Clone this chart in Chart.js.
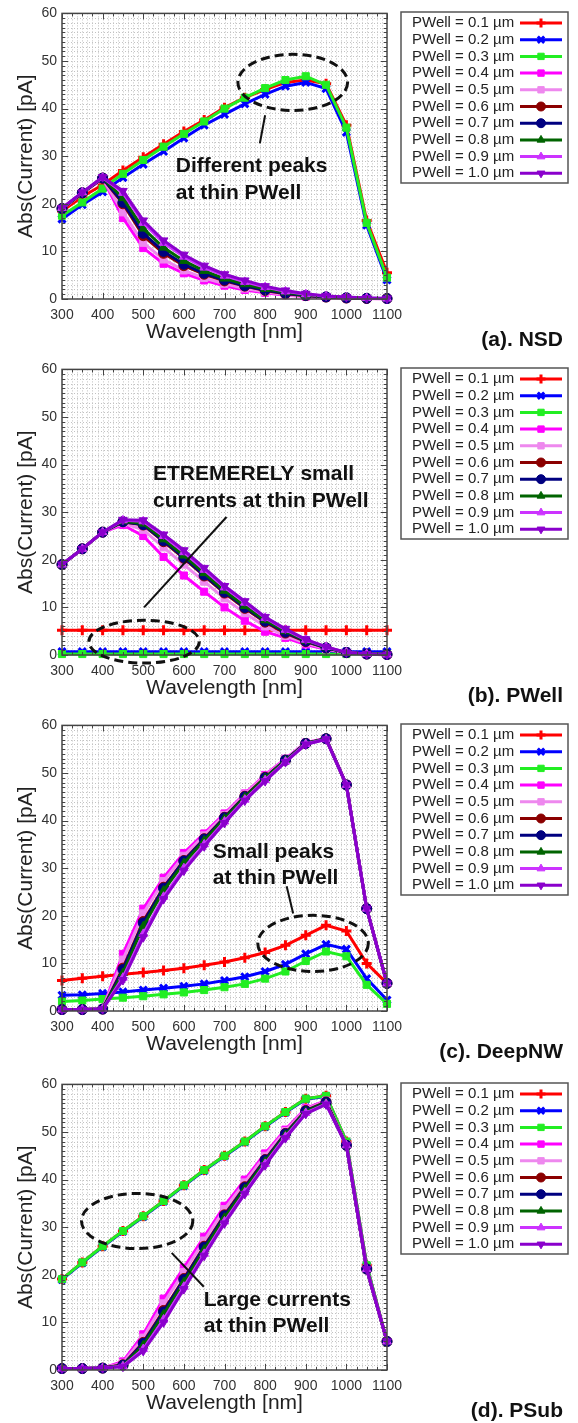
<!DOCTYPE html>
<html>
<head>
<meta charset="utf-8">
<title>Abs(Current) vs Wavelength</title>
<script src="https://cdn.jsdelivr.net/npm/chart.js@4.4.1/dist/chart.umd.min.js"></script>
<style>
  html, body { margin: 0; padding: 0; background: #fff; }
  body { width: 578px; height: 1423px; position: relative; overflow: hidden; }
  .panel { position: absolute; left: 0; width: 578px; height: 356px; }
</style>
</head>
<body>
<div class="panel" style="top:0px"><canvas id="nsdChart" width="578" height="356"></canvas></div>
<div class="panel" style="top:356px"><canvas id="pwellChart" width="578" height="356"></canvas></div>
<div class="panel" style="top:712px"><canvas id="deepnwChart" width="578" height="356"></canvas></div>
<div class="panel" style="top:1071px"><canvas id="psubChart" width="578" height="356"></canvas></div>

<script>
// ---------------------------------------------
// data: wavelength [nm] and current [pA]
// ---------------------------------------------
const wavelength = [300, 350, 400, 450, 500, 550, 600, 650, 700, 750, 800, 850, 900, 950, 1000, 1050, 1100];

const pwellLabels = [
    "PWell = 0.1 µm", "PWell = 0.2 µm", "PWell = 0.3 µm", "PWell = 0.4 µm", "PWell = 0.5 µm",
    "PWell = 0.6 µm", "PWell = 0.7 µm", "PWell = 0.8 µm", "PWell = 0.9 µm", "PWell = 1.0 µm"
];

// (a) NSD
const nsd01 = [18.5, 21.5, 24.0, 27.0, 29.8, 32.5, 35.2, 37.6, 40.2, 42.3, 44.0, 45.5, 46.0, 45.2, 36.5, 16.5, 5.5];
const nsd02 = [16.8, 19.8, 22.5, 25.5, 28.3, 31.0, 33.8, 36.5, 38.8, 41.0, 43.0, 44.7, 45.5, 44.2, 35.0, 15.5, 4.0];
const nsd03 = [17.5, 20.3, 23.2, 26.3, 29.2, 32.0, 34.7, 37.3, 40.0, 42.3, 44.3, 46.0, 46.8, 45.0, 36.0, 16.0, 4.5];
const nsd04 = [18.9, 22.2, 25.3, 17.0, 10.7, 7.4, 5.4, 3.9, 2.8, 1.9, 1.3, 0.8, 0.5, 0.3, 0.15, 0.1, 0.05];
const nsd05 = [18.9, 22.2, 25.3, 18.2, 11.8, 8.3, 6.0, 4.4, 3.2, 2.2, 1.5, 0.9, 0.55, 0.3, 0.2, 0.1, 0.05];
const nsd06 = [19.0, 22.3, 25.4, 20.0, 13.3, 9.6, 7.0, 5.2, 3.8, 2.7, 1.8, 1.1, 0.7, 0.4, 0.2, 0.1, 0.1];
const nsd07 = [19.0, 22.3, 25.4, 20.3, 13.8, 10.0, 7.3, 5.4, 4.0, 2.8, 1.9, 1.2, 0.75, 0.45, 0.25, 0.15, 0.1];
const nsd08 = [19.0, 22.3, 25.5, 21.2, 14.8, 10.8, 8.0, 5.9, 4.3, 3.1, 2.1, 1.4, 0.85, 0.5, 0.3, 0.15, 0.1];
const nsd09 = [19.1, 22.4, 25.5, 22.3, 16.0, 11.8, 8.9, 6.6, 4.9, 3.6, 2.5, 1.6, 1.0, 0.6, 0.35, 0.2, 0.1];
const nsd10 = [19.1, 22.4, 25.6, 22.7, 16.5, 12.3, 9.3, 7.0, 5.2, 3.9, 2.7, 1.8, 1.1, 0.65, 0.4, 0.2, 0.1];

// (b) PWell
const pw01 = [5.2, 5.2, 5.2, 5.2, 5.2, 5.2, 5.2, 5.2, 5.2, 5.2, 5.2, 5.2, 5.2, 5.2, 5.2, 5.2, 5.2];
const pw02 = [0.7, 0.7, 0.7, 0.7, 0.7, 0.7, 0.7, 0.7, 0.7, 0.7, 0.7, 0.7, 0.7, 0.7, 0.7, 0.7, 0.7];
const pw03 = [0.2, 0.2, 0.2, 0.2, 0.2, 0.2, 0.2, 0.2, 0.2, 0.2, 0.2, 0.2, 0.2, 0.2, 0.2, 0.2, 0.2];
const pw04 = [19.0, 22.3, 25.8, 27.3, 25.0, 20.6, 16.7, 13.3, 10.0, 7.2, 4.9, 3.6, 2.2, 1.2, 0.4, 0.15, 0.05];
const pw05 = [19.0, 22.3, 25.8, 27.7, 26.3, 22.6, 19.0, 15.4, 11.9, 8.8, 6.0, 4.0, 2.5, 1.3, 0.45, 0.15, 0.05];
const pw06 = [19.0, 22.3, 25.8, 28.0, 27.3, 23.8, 20.3, 16.6, 13.0, 9.8, 6.9, 4.6, 2.8, 1.5, 0.5, 0.2, 0.1];
const pw07 = [19.0, 22.3, 25.8, 28.0, 27.4, 24.0, 20.5, 16.8, 13.2, 10.0, 7.1, 4.8, 2.9, 1.5, 0.5, 0.2, 0.1];
const pw08 = [19.0, 22.3, 25.8, 28.1, 27.6, 24.3, 20.9, 17.2, 13.5, 10.3, 7.3, 5.0, 3.0, 1.6, 0.5, 0.2, 0.1];
const pw09 = [19.0, 22.3, 25.8, 28.3, 28.1, 25.0, 21.6, 17.9, 14.2, 11.0, 7.8, 5.3, 3.2, 1.7, 0.55, 0.2, 0.1];
const pw10 = [19.0, 22.3, 25.8, 28.4, 28.3, 25.3, 22.0, 18.3, 14.5, 11.3, 8.0, 5.5, 3.3, 1.7, 0.55, 0.2, 0.1];

// (c) DeepNW
const dn01 = [6.4, 6.9, 7.3, 7.7, 8.1, 8.5, 9.0, 9.6, 10.3, 11.2, 12.3, 13.8, 15.9, 18.0, 16.8, 10.0, 5.8];
const dn02 = [3.3, 3.4, 3.7, 4.0, 4.4, 4.8, 5.2, 5.7, 6.4, 7.2, 8.3, 9.8, 12.0, 14.0, 13.0, 6.8, 2.3];
const dn03 = [2.0, 2.2, 2.5, 2.8, 3.1, 3.5, 3.9, 4.4, 5.0, 5.7, 6.8, 8.3, 10.5, 12.5, 11.5, 5.5, 1.5];
const dn04 = [0.3, 0.3, 0.4, 12.0, 21.5, 28.0, 33.2, 37.3, 41.5, 45.7, 49.6, 53.0, 56.4, 57.3, 47.6, 21.6, 5.8];
const dn05 = [0.3, 0.3, 0.4, 10.8, 20.5, 27.3, 32.6, 36.9, 41.2, 45.5, 49.4, 52.9, 56.3, 57.3, 47.6, 21.6, 5.8];
const dn06 = [0.3, 0.3, 0.4, 9.0, 18.8, 26.0, 31.6, 36.2, 40.7, 45.1, 49.1, 52.7, 56.2, 57.2, 47.5, 21.5, 5.8];
const dn07 = [0.3, 0.3, 0.4, 8.7, 18.5, 25.8, 31.5, 36.1, 40.6, 45.0, 49.0, 52.7, 56.2, 57.2, 47.5, 21.5, 5.8];
const dn08 = [0.3, 0.3, 0.4, 8.0, 17.8, 25.3, 31.1, 35.8, 40.4, 44.9, 48.9, 52.6, 56.2, 57.2, 47.5, 21.5, 5.8];
const dn09 = [0.3, 0.3, 0.4, 7.0, 16.2, 24.0, 30.0, 35.0, 39.8, 44.4, 48.5, 52.4, 56.1, 57.1, 47.5, 21.5, 5.8];
const dn10 = [0.3, 0.3, 0.4, 6.5, 15.5, 23.5, 29.5, 34.6, 39.5, 44.2, 48.3, 52.3, 56.0, 57.1, 47.5, 21.5, 5.8];

// (d) PSub
const ps01 = [19.1, 22.6, 26.0, 29.2, 32.3, 35.5, 38.8, 42.0, 45.0, 48.0, 51.2, 54.2, 57.0, 57.6, 48.0, 22.0, 6.0];
const ps02 = [19.0, 22.5, 25.9, 29.1, 32.2, 35.4, 38.7, 41.9, 44.9, 47.9, 51.1, 54.1, 56.9, 57.5, 47.9, 21.9, 5.9];
const ps03 = [19.1, 22.6, 26.0, 29.2, 32.3, 35.5, 38.8, 42.0, 45.0, 48.0, 51.2, 54.2, 57.0, 57.6, 48.0, 22.0, 6.0];
const ps04 = [0.3, 0.3, 0.4, 1.8, 7.5, 15.0, 21.5, 28.0, 34.5, 40.0, 45.5, 50.5, 55.0, 56.6, 47.3, 21.3, 6.0];
const ps05 = [0.3, 0.3, 0.4, 1.5, 6.8, 14.0, 20.6, 27.2, 33.8, 39.4, 45.0, 50.2, 54.8, 56.5, 47.3, 21.3, 6.0];
const ps06 = [0.3, 0.3, 0.4, 1.1, 5.8, 12.5, 19.2, 26.0, 32.6, 38.5, 44.2, 49.7, 54.5, 56.3, 47.2, 21.2, 6.0];
const ps07 = [0.3, 0.3, 0.4, 1.0, 5.6, 12.2, 19.0, 25.8, 32.4, 38.3, 44.1, 49.6, 54.4, 56.2, 47.2, 21.2, 6.0];
const ps08 = [0.3, 0.3, 0.4, 0.9, 5.2, 11.7, 18.5, 25.3, 32.0, 38.0, 43.8, 49.4, 54.3, 56.1, 47.2, 21.2, 6.0];
const ps09 = [0.3, 0.3, 0.4, 0.8, 4.4, 10.6, 17.5, 24.4, 31.2, 37.3, 43.3, 49.0, 54.0, 55.9, 47.2, 21.2, 6.0];
const ps10 = [0.3, 0.3, 0.4, 0.7, 4.0, 10.0, 17.0, 24.0, 30.8, 37.0, 43.0, 48.7, 53.8, 55.8, 47.2, 21.2, 6.0];

// ---------------------------------------------
// series styles
// ---------------------------------------------
const seriesColors = ["#ff0000", "#0000ff", "#22ee22", "#ff00ff", "#ee88ee", "#8b0000", "#000080", "#006400", "#cc33ff", "#8a00cc"];
const seriesMarkers = ["cross", "crossRot", "rect", "rect", "rect", "circle", "circle", "triangle", "triangle", "triangle"];
const seriesTurn = [0, 0, 0, 0, 0, 0, 0, 0, 0, 180];

const FONT = "'Liberation Sans', Arial, sans-serif";

// ---------------------------------------------
// drawing helpers
// ---------------------------------------------
function drawGrid(chart) {
    var ctx = chart.ctx;
    var a = chart.chartArea;
    var xs = chart.scales.x;
    var ys = chart.scales.y;
    ctx.save();
    ctx.strokeStyle = "#c2c2c2";
    ctx.lineWidth = 1;
    ctx.setLineDash([1, 2]);
    ctx.beginPath();
    for (var v = 312.5; v < 1100; v += 12.5) {
        var px = Math.round(xs.getPixelForValue(v)) + 0.5;
        ctx.moveTo(px, a.top);
        ctx.lineTo(px, a.bottom);
    }
    for (var w = 1; w < 60; w += 1) {
        var py = Math.round(ys.getPixelForValue(w)) + 0.5;
        ctx.moveTo(a.left, py);
        ctx.lineTo(a.right, py);
    }
    ctx.stroke();
    ctx.restore();
}

function drawFrame(chart) {
    var ctx = chart.ctx;
    var a = chart.chartArea;
    var xs = chart.scales.x;
    var ys = chart.scales.y;
    ctx.save();
    ctx.strokeStyle = "#444";
    ctx.lineWidth = 1;
    ctx.beginPath();
    // inward ticks on all four sides
    for (var v = 300; v <= 1100; v += 25) {
        var px = Math.round(xs.getPixelForValue(v)) + 0.5;
        var len = v % 100 === 0 ? 6 : 3;
        ctx.moveTo(px, a.bottom);
        ctx.lineTo(px, a.bottom - len);
        ctx.moveTo(px, a.top);
        ctx.lineTo(px, a.top + len);
    }
    for (var w = 0; w <= 60; w += 1) {
        var py = Math.round(ys.getPixelForValue(w)) + 0.5;
        var l2 = w % 10 === 0 ? 6 : 3;
        ctx.moveTo(a.left, py);
        ctx.lineTo(a.left + l2, py);
        ctx.moveTo(a.right, py);
        ctx.lineTo(a.right - l2, py);
    }
    ctx.stroke();
    ctx.lineWidth = 1.5;
    ctx.strokeRect(a.left, a.top, a.right - a.left, a.bottom - a.top);
    ctx.restore();
}

function drawNote(chart, note) {
    var ctx = chart.ctx;
    var xs = chart.scales.x;
    var ys = chart.scales.y;
    ctx.save();

    // dashed ellipse
    var cx = xs.getPixelForValue(note.ellipse[0]);
    var cy = ys.getPixelForValue(note.ellipse[1]);
    var rx = Math.abs(xs.getPixelForValue(note.ellipse[0] + note.ellipse[2]) - cx);
    var ry = Math.abs(ys.getPixelForValue(note.ellipse[1] + note.ellipse[3]) - cy);
    ctx.beginPath();
    ctx.ellipse(cx, cy, rx, ry, 0, 0, Math.PI * 2);
    ctx.setLineDash([9, 5]);
    ctx.lineWidth = 3;
    ctx.strokeStyle = "#111";
    ctx.stroke();

    // leader line
    ctx.setLineDash([]);
    ctx.lineWidth = 2;
    ctx.beginPath();
    ctx.moveTo(xs.getPixelForValue(note.line[0]), ys.getPixelForValue(note.line[1]));
    ctx.lineTo(xs.getPixelForValue(note.line[2]), ys.getPixelForValue(note.line[3]));
    ctx.stroke();

    // text
    ctx.fillStyle = "#111";
    ctx.font = "bold 21px " + FONT;
    ctx.textAlign = "left";
    ctx.textBaseline = "middle";
    for (var i = 0; i < note.text.length; i++) {
        ctx.fillText(note.text[i], xs.getPixelForValue(note.textAt[0]), ys.getPixelForValue(note.textAt[1][i]));
    }
    ctx.restore();
}

function drawSideLegend(chart) {
    var ctx = chart.ctx;
    var boxX = 401, boxY = 12, boxW = 167, boxH = 171;
    ctx.save();
    ctx.fillStyle = "#fff";
    ctx.fillRect(boxX, boxY, boxW, boxH);
    ctx.strokeStyle = "#555";
    ctx.lineWidth = 1.5;
    ctx.strokeRect(boxX, boxY, boxW, boxH);

    var sets = chart.data.datasets;
    for (var i = 0; i < sets.length; i++) {
        var ds = sets[i];
        var cy = boxY + 11 + i * 16.7;
        ctx.fillStyle = "#222";
        ctx.font = "15px " + FONT;
        ctx.textAlign = "left";
        ctx.textBaseline = "middle";
        ctx.fillText(ds.label, boxX + 11, cy);

        ctx.strokeStyle = ds.borderColor;
        ctx.fillStyle = ds.borderColor;
        ctx.lineWidth = 3;
        ctx.beginPath();
        ctx.moveTo(boxX + 119, cy);
        ctx.lineTo(boxX + 161, cy);
        ctx.stroke();
        ctx.lineWidth = ds.pointBorderWidth;
        Chart.helpers.drawPoint(ctx, {
            pointStyle: ds.pointStyle,
            rotation: ds.pointRotation,
            radius: 4.5,
            borderWidth: ds.pointBorderWidth
        }, boxX + 140, cy);
    }
    ctx.restore();
}

function drawCaption(chart, caption) {
    var ctx = chart.ctx;
    ctx.save();
    ctx.fillStyle = "#111";
    ctx.font = "bold 21px " + FONT;
    ctx.textAlign = "right";
    ctx.textBaseline = "middle";
    ctx.fillText(caption, 563, 340);
    ctx.restore();
}

// ---------------------------------------------
// one panel
// ---------------------------------------------
function makePanel(canvasId, series, note, caption) {
    var datasets = [];
    for (var i = 0; i < series.length; i++) {
        var values = series[i];
        datasets.push({
            label: pwellLabels[i],
            data: values.map(function(v, k) {
                return { x: wavelength[k], y: v };
            }),
            borderColor: seriesColors[i],
            backgroundColor: seriesColors[i],
            borderWidth: 3,
            pointStyle: seriesMarkers[i],
            pointRotation: seriesTurn[i],
            pointRadius: 5,
            pointBorderWidth: seriesMarkers[i].indexOf("cross") === 0 ? 3 : 1,
            pointBackgroundColor: seriesColors[i],
            pointBorderColor: seriesColors[i],
            tension: 0,
            clip: false,
            order: series.length - i
        });
    }

    var decor = {
        id: "panelDecor",
        beforeDatasetsDraw: function(chart) {
            drawGrid(chart);
        },
        afterDatasetsDraw: function(chart) {
            drawFrame(chart);
            drawNote(chart, note);
        },
        afterDraw: function(chart) {
            drawSideLegend(chart);
            drawCaption(chart, caption);
        }
    };

    return new Chart(document.getElementById(canvasId), {
        type: "line",
        data: { datasets: datasets },
        options: {
            responsive: false,
            animation: false,
            layout: { padding: { left: 0, right: 191, top: 13, bottom: 0 } },
            plugins: {
                legend: { display: false },
                tooltip: { enabled: false }
            },
            scales: {
                x: {
                    type: "linear",
                    min: 300,
                    max: 1100,
                    afterFit: function(s) { s.height = 57; },
                    ticks: {
                        stepSize: 100,
                        autoSkip: false,
                        maxRotation: 0,
                        padding: 8,
                        color: "#333",
                        font: { family: FONT, size: 14 },
                        callback: function(v) { return String(v); }
                    },
                    grid: { display: false, drawTicks: false },
                    border: { display: false },
                    title: {
                        display: true,
                        text: "Wavelength [nm]",
                        color: "#222",
                        font: { family: FONT, size: 21 },
                        padding: { top: 0, bottom: 11 }
                    }
                },
                y: {
                    min: 0,
                    max: 60,
                    afterFit: function(s) { s.width = 62; },
                    ticks: {
                        stepSize: 10,
                        padding: 5,
                        color: "#333",
                        font: { family: FONT, size: 14 }
                    },
                    grid: { display: false, drawTicks: false },
                    border: { display: false },
                    title: {
                        display: true,
                        text: "Abs(Current) [pA]",
                        color: "#222",
                        font: { family: FONT, size: 21 },
                        padding: { top: 14, bottom: 0 }
                    }
                }
            }
        },
        plugins: [decor]
    });
}

makePanel("nsdChart",
    [nsd01, nsd02, nsd03, nsd04, nsd05, nsd06, nsd07, nsd08, nsd09, nsd10],
    {
        ellipse: [868, 45.5, 135, 5.9],
        line: [800, 38.6, 787, 32.7],
        text: ["Different peaks", "at thin PWell"],
        textAt: [580, [27.9, 22.2]]
    },
    "(a). NSD");

makePanel("pwellChart",
    [pw01, pw02, pw03, pw04, pw05, pw06, pw07, pw08, pw09, pw10],
    {
        ellipse: [502, 2.8, 136, 4.5],
        line: [502, 10.0, 705, 29.0],
        text: ["ETREMERELY small", "currents at thin PWell"],
        textAt: [524, [37.9, 32.4]]
    },
    "(b). PWell");

makePanel("deepnwChart",
    [dn01, dn02, dn03, dn04, dn05, dn06, dn07, dn08, dn09, dn10],
    {
        ellipse: [918, 14.2, 136, 5.9],
        line: [853, 26.2, 869, 20.5],
        text: ["Small peaks", "at thin PWell"],
        textAt: [671, [33.4, 27.9]]
    },
    "(c). DeepNW");

makePanel("psubChart",
    [ps01, ps02, ps03, ps04, ps05, ps06, ps07, ps08, ps09, ps10],
    {
        ellipse: [485, 31.3, 137, 5.8],
        line: [570, 24.6, 649, 17.5],
        text: ["Large currents", "at thin PWell"],
        textAt: [649, [14.7, 9.1]]
    },
    "(d). PSub");
</script>
</body>
</html>
